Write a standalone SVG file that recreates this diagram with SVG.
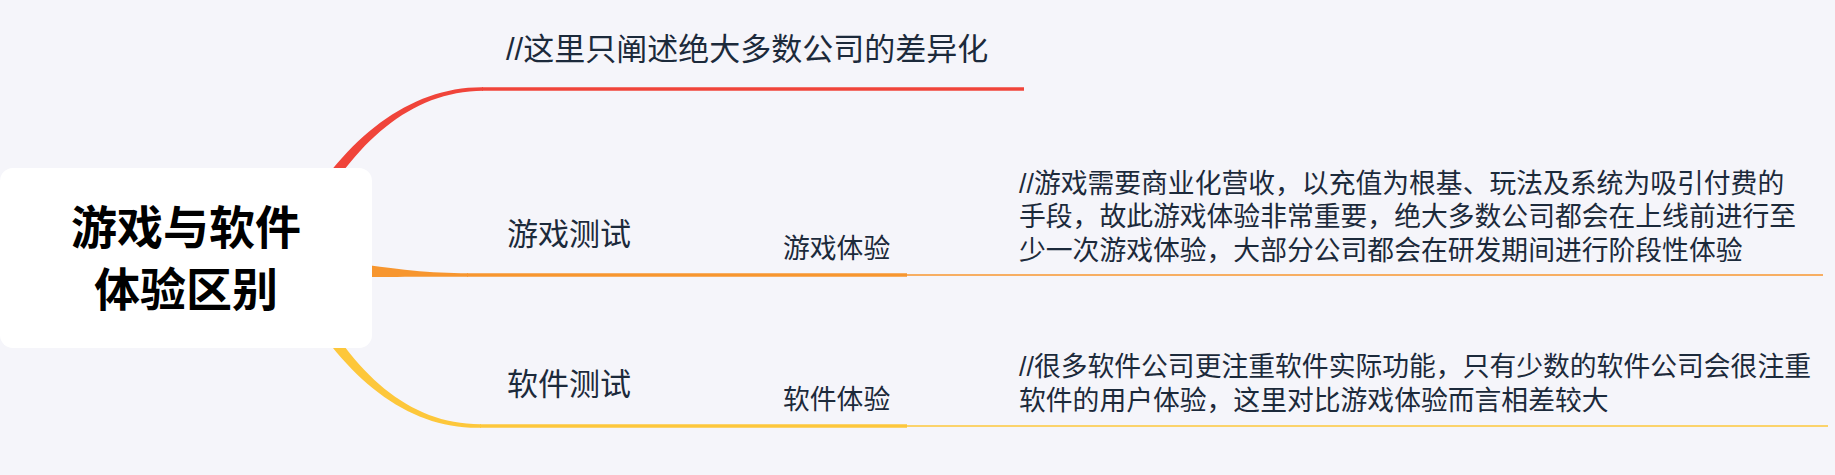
<svg xmlns="http://www.w3.org/2000/svg" width="1835" height="475" viewBox="0 0 1835 475">
<style>
.t{font-family:"Noto Sans CJK SC","Liberation Sans",sans-serif;fill:#1c2a3b;}
.sl{font-family:"Liberation Sans","Noto Sans CJK SC",sans-serif;}
.l1{font-size:31px;}
.l2{font-size:26.8px;}
.title{font-family:"Noto Sans CJK SC","Liberation Sans",sans-serif;font-size:46px;font-weight:700;fill:#000;text-anchor:middle;}
.red{stroke:#f0443a;fill:none;}
.org{stroke:#f7962f;fill:none;}
.yel{stroke:#fdc73b;fill:none;}
</style>
<rect x="0" y="0" width="1835" height="475" fill="#f5f5fa"/>
<g id="connectors">
  <path d="M299.8,217.1 C345.6,137.6 410,86.5 483,87.2 L483,90.8 C410,91.5 354.4,142.4 310.2,222.9 Z" fill="#f0443a"/>
  <line class="red" x1="482" y1="89" x2="1024" y2="89" stroke-width="3.6"/>
  <path d="M340,261 C400,270 430,273.2 468,273.2 L468,276.8 C430,276.8 400,277 340,277 Z" fill="#f7962f"/>
  <line class="org" x1="467" y1="275" x2="907" y2="275" stroke-width="3.6"/>
  <line class="org" x1="906" y1="275" x2="1823" y2="275" stroke-width="1.6"/>
  <path d="M299.8,298.9 C345.6,378.4 408,429.5 481,427.8 L481,424.2 C408,424.5 354.4,373.6 310.2,293.1 Z" fill="#fdc73b"/>
  <line class="yel" x1="480" y1="426" x2="907" y2="426" stroke-width="3.6"/>
  <line class="yel" x1="906" y1="426" x2="1828" y2="426" stroke-width="1.6"/>
</g>
<g id="root">
  <rect x="0" y="168" width="372" height="180" rx="13" ry="13" fill="#ffffff"/>
  <text class="title" x="186" y="244">游戏与软件</text>
  <text class="title" x="186" y="306">体验区别</text>
</g>
<g id="note-top">
  <text class="t l1" x="506" y="60"><tspan class="sl">//</tspan>这里只阐述绝大多数公司的差异化</text>
</g>
<g id="game-test">
  <text class="t l1" x="507" y="245">游戏测试</text>
</g>
<g id="game-exp">
  <text class="t l2" x="783" y="258">游戏体验</text>
</g>
<g id="game-note">
  <text class="t l2" x="1019" y="192.5"><tspan class="sl">//</tspan>游戏需要商业化营收，以充值为根基、玩法及系统为吸引付费的</text>
  <text class="t l2" x="1019" y="226">手段，故此游戏体验非常重要，绝大多数公司都会在上线前进行至</text>
  <text class="t l2" x="1019" y="259.5">少一次游戏体验，大部分公司都会在研发期间进行阶段性体验</text>
</g>
<g id="soft-test">
  <text class="t l1" x="507" y="395">软件测试</text>
</g>
<g id="soft-exp">
  <text class="t l2" x="783" y="409">软件体验</text>
</g>
<g id="soft-note">
  <text class="t l2" x="1019" y="376"><tspan class="sl">//</tspan>很多软件公司更注重软件实际功能，只有少数的软件公司会很注重</text>
  <text class="t l2" x="1019" y="409.5">软件的用户体验，这里对比游戏体验而言相差较大</text>
</g>
</svg>
